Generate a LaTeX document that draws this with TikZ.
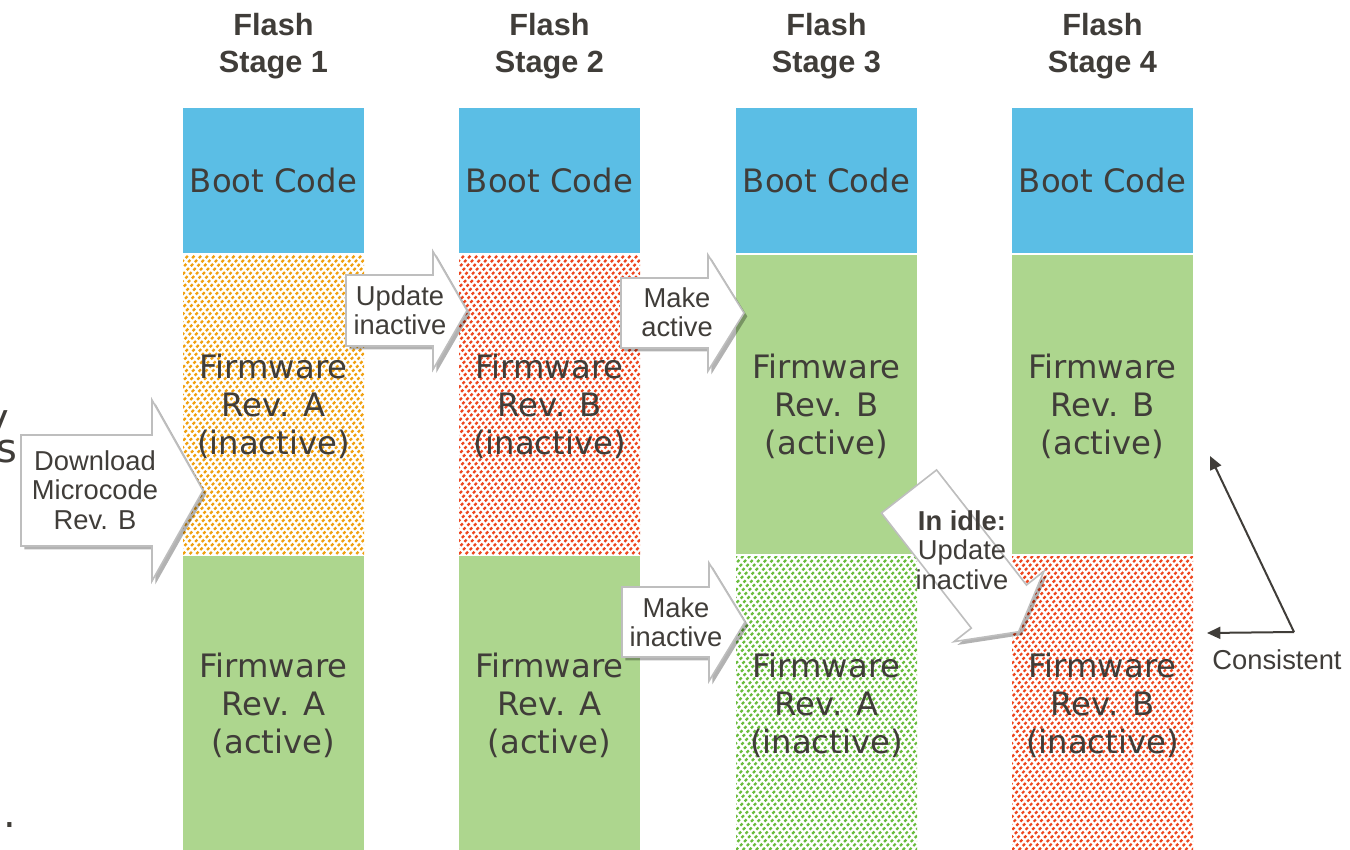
\documentclass[tikz,border=0pt]{standalone}
\usepackage{fontspec}
\setmainfont{Liberation Sans}
\newfontfamily\blockfont{DejaVu Sans}
\usetikzlibrary{shadows,arrows.meta}
\definecolor{blueC}{RGB}{91,190,229}
\definecolor{greenC}{RGB}{173,214,142}
\definecolor{orangeH}{RGB}{240,160,15}
\definecolor{redH}{RGB}{238,70,30}
\definecolor{greenH}{RGB}{105,188,60}
\definecolor{txt}{RGB}{64,61,57}
\definecolor{arrowborder}{RGB}{190,190,190}
\newcommand\blockarr[8]{% name,x,y,angle,length,headlen,bodyhalf,headhalf
  \begin{scope}[shift={(#2,#3)},rotate=#4]
    \draw[arrowbox] (0,-#7) -- ({#5-#6},-#7) -- ({#5-#6},-#8) -- (#5,0) -- ({#5-#6},#8) -- ({#5-#6},#7) -- (0,#7) -- cycle;
    \coordinate (#1) at (0,0);
  \end{scope}}
\tikzset{
  blk/.style={minimum width=135.75pt, inner sep=0pt, text=txt, font=\blockfont\fontsize{24.2}{28.5}\selectfont, align=center},
  boot/.style={blk, fill=blueC, minimum height=108.75pt},
  fwup/.style={blk, minimum height=224.25pt},
  fwlo/.style={blk, minimum height=220.5pt},
  solid green/.style={fill=greenC},
  hatch/.style={fill=white, path picture={\foreach \i in {-48,...,28}{\draw[#1,line width=1.7pt,dash pattern=on 2.3pt off 2pt] ([xshift=\i*5pt]path picture bounding box.south west) -- ++(260pt,260pt);}}},
  title/.style={font=\bfseries\fontsize{23}{27.75}\selectfont, text=txt, align=center},
  arrowbox/.style={fill=white, draw=arrowborder, line width=1.2pt, line join=miter, drop shadow={shadow xshift=2.5pt, shadow yshift=-2.5pt, opacity=0.3, fill=black}},
  arrlabel/.style={font=\fontsize{20.5}{22}\selectfont, text=txt, align=center, inner sep=0pt},
  conn/.style={draw=txt, line width=1.5pt, -{Triangle[length=10pt,width=9pt]}},
  frag/.style={font=\blockfont\fontsize{30}{36}\selectfont, text=txt, inner sep=0pt},
}
\begin{document}
\begin{tikzpicture}[x=0.75pt,y=-0.75pt]
\useasboundingbox (0,0) rectangle (1350,850);
% fragments at left edge
\node[frag, anchor=base east] (fy) at (9,432) {y};
\node[frag, anchor=base east] (fs) at (18,462) {s};
\node[frag, anchor=base east] (fl) at (16,827) {l.};
% titles
\node[title] (t1) at (273.5,46) {Flash\\Stage 1};
\node[title] (t2) at (549.5,46) {Flash\\Stage 2};
\node[title] (t3) at (826.5,46) {Flash\\Stage 3};
\node[title] (t4) at (1102.5,46) {Flash\\Stage 4};
% boot code
\node[boot] (b1) at (273.5,180.5) {Boot Code};
\node[boot] (b2) at (549.5,180.5) {Boot Code};
\node[boot] (b3) at (826.5,180.5) {Boot Code};
\node[boot] (b4) at (1102.5,180.5) {Boot Code};
% upper firmware
\node[fwup, hatch=orangeH, text depth=0pt] (u1) at (273.5,404.5) {Firmware\\Rev. A\\(inactive)};
\node[fwup, hatch=redH, text depth=0pt] (u2) at (549.5,404.5) {Firmware\\Rev. B\\(inactive)};
\node[fwup, solid green, text depth=0pt] (u3) at (826.5,404.5) {Firmware\\Rev. B\\(active)};
\node[fwup, solid green, text depth=0pt] (u4) at (1102.5,404.5) {Firmware\\Rev. B\\(active)};
% lower firmware
\node[fwlo, hatch=greenH, text depth=0pt] (l3) at (826.5,703) {Firmware\\Rev. A\\(inactive)};
\node[fwlo, solid green, text depth=0pt] (l1) at (273.5,703) {Firmware\\Rev. A\\(active)};
\node[fwlo, solid green, text depth=0pt] (l2) at (549.5,703) {Firmware\\Rev. A\\(active)};
\node[fwlo, hatch=redH, text depth=0pt] (l4) at (1102.5,703) {Firmware\\Rev. B\\(inactive)};
% block arrows
\blockarr{a1}{21}{490.5}{0}{182}{51}{55.5}{90.5}
\blockarr{a2}{346}{310.5}{0}{121}{34}{35.5}{59}
\blockarr{a3}{621}{313}{0}{123}{36}{35}{58}
\blockarr{a4}{622}{622}{0}{123}{36}{35}{59}
\blockarr{a5}{909}{491.5}{-52}{178}{32}{35}{57}
\node[arrlabel] (la1) at (95,490) {Download\\Microcode\\Rev. B};
\node[arrlabel] (la2) at (400,310) {Update\\inactive};
\node[arrlabel] (la3) at (677,312) {Make\\active};
\node[arrlabel] (la4) at (676,622) {Make\\inactive};
\node[arrlabel] (la5) at (962,550) {\textbf{In idle:}\\Update\\inactive};
% consistent
\coordinate (cc) at (1294,632);
\coordinate (ct1) at (1210,456);
\coordinate (ct2) at (1207,633);
\draw[conn] (cc) -- (ct1);
\draw[conn] (cc) -- (ct2);
\node[arrlabel] (cons) at (1277,660) {Consistent};
\end{tikzpicture}
\end{document}
